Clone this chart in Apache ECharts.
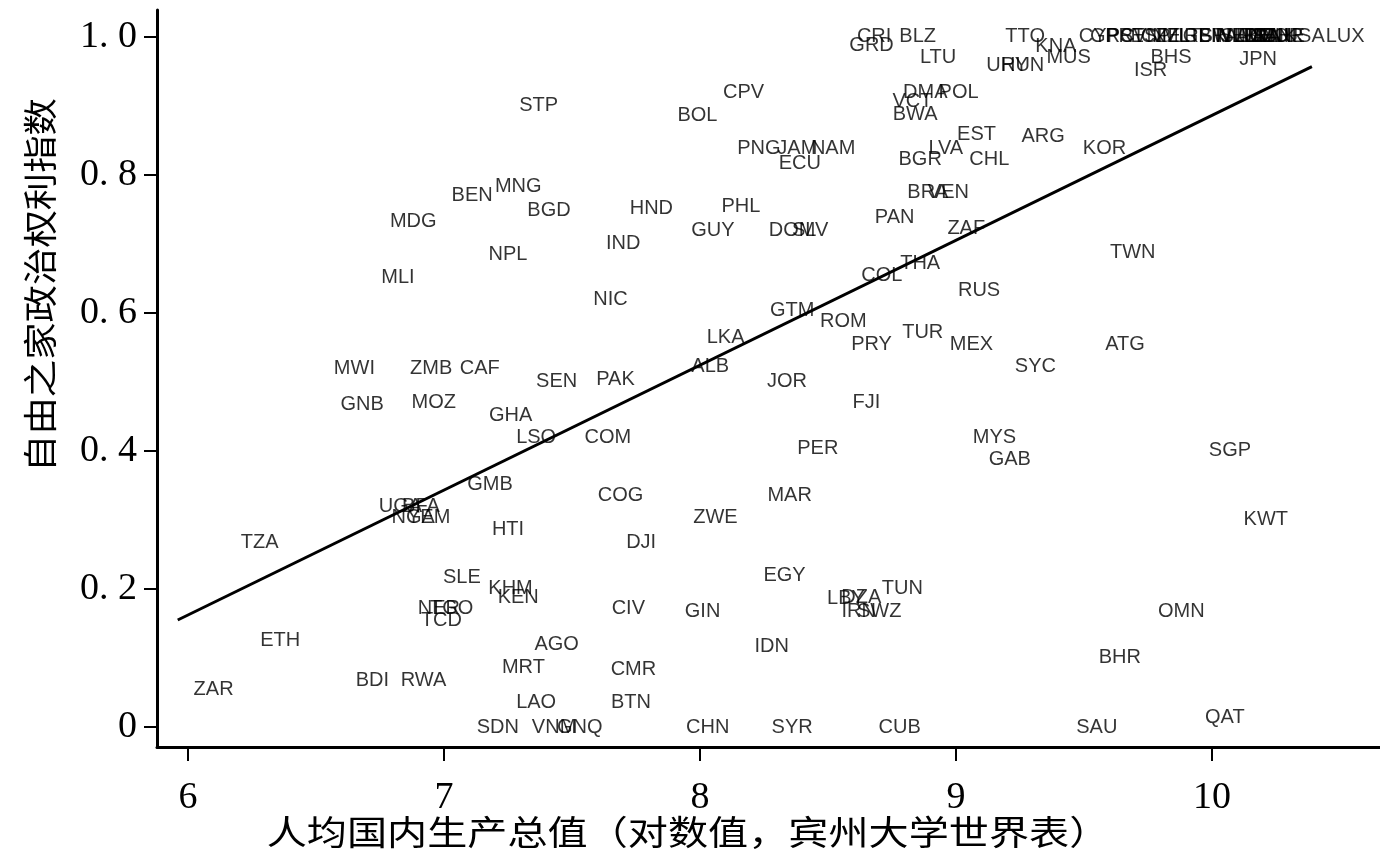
<!DOCTYPE html>
<html>
<head>
<meta charset="utf-8">
<script src="https://cdn.jsdelivr.net/npm/echarts@6/dist/echarts.min.js"></script>
<style>
html,body{margin:0;padding:0;background:#fff;overflow:hidden;}
#chart{width:1380px;height:851px;}
</style>
</head>
<body>
<div id="chart"></div>
<script>
// Country codes (labels), GDP per capita (log, Penn World Table), political rights index
const countries = [
 'CRI','BLZ','GRD','LTU','TTO','KNA','MUS','URY','HUN',
 'CYP','GRC','PRT','SVN','ESP','CZE','NZL','MLT','IRL','GBR','FIN','SWE','ISL','NLD','AUS','ITA','AUT','FRA','BEL','DEU','CAN','DNK','NOR','CHE','USA','LUX',
 'BHS','ISR','JPN','STP','CPV','BOL','DMA','POL','VCT','BWA',
 'PNG','JAM','NAM','ECU','EST','LVA','BGR','CHL','ARG','KOR',
 'MNG','BEN','BGD','MDG','HND','PHL','GUY','DOM','SLV','PAN','ZAF','BRA','VEN',
 'IND','NPL','TWN','MLI','COL','THA','RUS','NIC','GTM','ROM','LKA','PRY','TUR','MEX','ATG',
 'MWI','ZMB','CAF','SEN','PAK','ALB','JOR','SYC','GNB','MOZ','FJI','GHA','LSO','COM','MYS','PER','GAB','SGP',
 'GMB','COG','MAR','UGA','BFA','NGA','YEM','HTI','ZWE','KWT','TZA','DJI',
 'SLE','KHM','KEN','EGY','TUN','LBY','DZA','IRN','SWZ','NER','TGO','TCD','CIV','GIN','OMN',
 'ETH','AGO','IDN','MRT','CMR','BHR','BDI','RWA','ZAR','LAO','BTN',
 'SDN','VNM','GNQ','CHN','SYR','CUB','SAU','QAT'
];
const gdpLog = [
 8.68,8.85,8.67,8.93,9.27,9.39,9.44,9.20,9.26,
 9.56,9.61,9.66,9.72,9.76,9.80,9.84,9.88,9.93,9.97,10.01,10.04,10.07,10.10,10.13,10.15,10.17,10.19,10.20,10.22,10.23,10.25,10.27,10.28,10.36,10.52,
 9.84,9.76,10.18,7.37,8.17,7.99,8.88,9.01,8.83,8.84,
 8.23,8.38,8.52,8.39,9.08,8.96,8.86,9.13,9.34,9.58,
 7.29,7.11,7.41,6.88,7.81,8.16,8.05,8.36,8.43,8.76,9.04,8.89,8.97,
 7.70,7.25,9.69,6.82,8.71,8.86,9.09,7.65,8.36,8.56,8.10,8.67,8.87,9.06,9.66,
 6.65,6.95,7.14,7.44,7.67,8.04,8.34,9.31,6.68,6.96,8.65,7.26,7.36,7.64,9.15,8.46,9.21,10.07,
 7.18,7.69,8.35,6.83,6.91,6.88,6.94,7.25,8.06,10.21,6.28,7.77,
 7.07,7.26,7.29,8.33,8.79,8.57,8.63,8.62,8.70,6.98,7.03,6.99,7.72,8.01,9.88,
 6.36,7.44,8.28,7.31,7.74,9.64,6.72,6.92,6.10,7.36,7.73,
 7.21,7.43,7.53,8.03,8.36,8.78,9.55,10.05
];
const polRights = [
 1.00,1.00,0.987,0.970,1.00,0.986,0.970,0.958,0.958,
 1.00,1.00,1.00,1.00,1.00,1.00,1.00,1.00,1.00,1.00,1.00,1.00,1.00,1.00,1.00,1.00,1.00,1.00,1.00,1.00,1.00,1.00,1.00,1.00,1.00,1.00,
 0.970,0.951,0.967,0.900,0.919,0.886,0.920,0.920,0.906,0.888,
 0.838,0.838,0.838,0.817,0.858,0.839,0.823,0.822,0.855,0.838,
 0.783,0.770,0.749,0.733,0.752,0.754,0.720,0.720,0.720,0.738,0.723,0.774,0.774,
 0.701,0.684,0.687,0.652,0.655,0.672,0.633,0.620,0.604,0.587,0.565,0.554,0.571,0.554,0.554,
 0.520,0.519,0.520,0.501,0.503,0.522,0.500,0.522,0.468,0.470,0.470,0.452,0.419,0.419,0.420,0.404,0.387,0.401,
 0.351,0.336,0.336,0.319,0.319,0.303,0.303,0.286,0.303,0.301,0.268,0.268,
 0.217,0.201,0.187,0.219,0.201,0.186,0.187,0.167,0.167,0.172,0.172,0.155,0.172,0.167,0.167,
 0.126,0.119,0.116,0.086,0.083,0.100,0.068,0.068,0.054,0.035,0.035,
 0.000,0.000,0.000,0.000,0.000,0.000,0.000,0.014
];
// Fitted line (endpoints)
const fitX = [5.96, 10.39];
const fitY = [0.155, 0.957];
// Tick labels
const xTicks = [6, 7, 8, 9, 10];
const yTicks = [0, 0.2, 0.4, 0.6, 0.8, 1.0];
const xTitle = '人均国内生产总值（对数值，宾州大学世界表）';
const yTitle = '自由之家政治权利指数';

const pts = countries.map((c, i) => [gdpLog[i], polRights[i], c]);
const fit = fitX.map((x, i) => [x, fitY[i]]);

const chart = echarts.init(document.getElementById('chart'), null, {renderer: 'canvas', width: 1380, height: 851});
chart.setOption({
  animation: false,
  backgroundColor: '#ffffff',
  grid: {left: 157, top: 10, width: 1223, height: 737, containLabel: false},
  xAxis: {
    type: 'value', min: 5.879, max: 10.656,
    splitLine: {show: false},
    axisLine: {show: true, onZero: false, lineStyle: {color: '#000', width: 3}},
    axisTick: {show: true, length: 14, customValues: xTicks, lineStyle: {color: '#000', width: 2}},
    axisLabel: {show: true, customValues: xTicks, margin: 32, fontSize: 38,
      fontFamily: 'Liberation Serif', color: '#000'}
  },
  yAxis: {
    type: 'value', min: -0.029, max: 1.039,
    splitLine: {show: false},
    axisLine: {show: true, onZero: false, lineStyle: {color: '#000', width: 3}},
    axisTick: {show: true, length: 13, customValues: yTicks, lineStyle: {color: '#000', width: 2}},
    axisLabel: {show: true, customValues: yTicks, margin: 20, fontSize: 38,
      fontFamily: 'Liberation Serif', color: '#000',
      formatter: v => (Math.abs(v) < 1e-9 ? '0' : v.toFixed(1).replace('.', '. '))}
  },
  graphic: [
    {
      type: 'text', x: 40, y: 285, rotation: Math.PI / 2, scaleX: 1.1,
      style: {text: yTitle, fontSize: 34, fontFamily: 'Noto Sans CJK SC', fill: '#000',
        textAlign: 'center', textVerticalAlign: 'middle'}
    },
    {
      type: 'text', x: 688, y: 832, scaleX: 1.18,
      style: {text: xTitle, fontSize: 34, fontFamily: 'Noto Sans CJK SC', fill: '#000',
        textAlign: 'center', textVerticalAlign: 'middle'}
    }
  ],
  series: [
    {
      type: 'scatter', data: pts, symbolSize: 1, silent: true,
      itemStyle: {color: 'rgba(0,0,0,0)'},
      label: {show: true, position: 'inside', formatter: p => p.value[2],
        fontSize: 20, fontFamily: 'Liberation Sans', color: '#000'},
      emphasis: {disabled: true}, z: 2
    },
    {
      type: 'line', data: fit, showSymbol: false, symbol: 'none', silent: true,
      lineStyle: {color: '#000', width: 3}, z: 3
    }
  ]
});
</script>
</body>
</html>
